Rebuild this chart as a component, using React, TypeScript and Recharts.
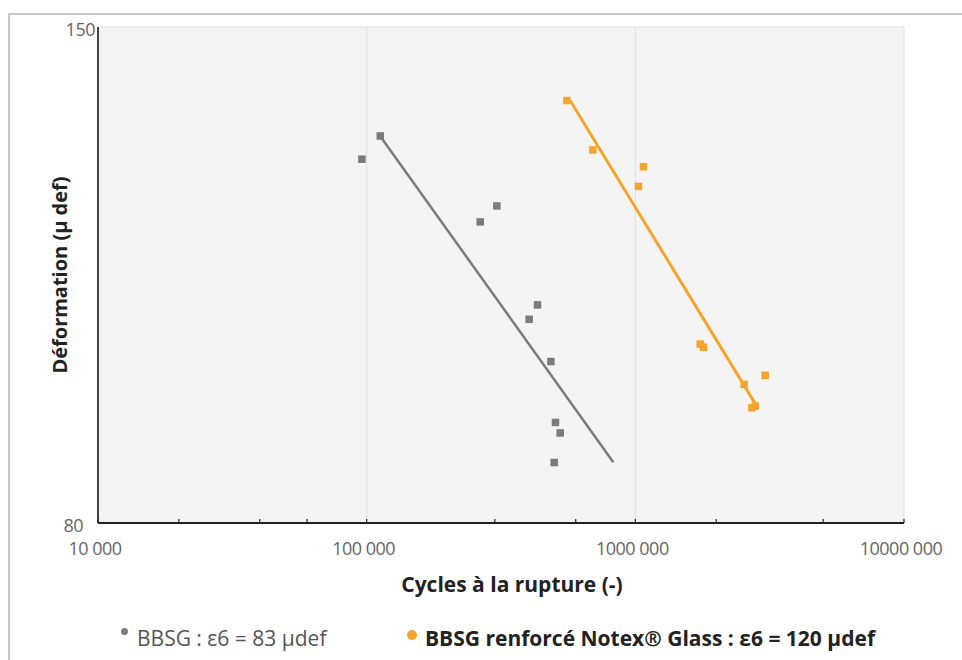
import { CartesianGrid, Legend, Scatter, ScatterChart, XAxis, YAxis } from 'recharts';

// cycles to failure / strain (µdef)
const bbsgCycles = [95800, 112100, 264100, 304600, 431400, 401800, 483900, 503300, 524000, 497800];
const bbsgStrain = [126.9, 130.7, 117.2, 119.6, 105.5, 103.6, 98.2, 90.9, 89.7, 86.4];
const notexCycles = [555100, 693500, 1070000, 1025000, 1740000, 1789000, 2536000, 3036000, 2710000, 2787000];
const notexStrain = [136.7, 128.4, 125.7, 122.6, 100.4, 100.0, 95.4, 96.5, 92.6, 92.8];

// fitted fatigue lines (end points)
const bbsgFitCycles = [112000, 828000];
const bbsgFitStrain = [130.7, 86.4];
const notexFitCycles = [571000, 2828000];
const notexFitStrain = [136.7, 92.8];

const xTicks = [
  10000, 20000, 30000, 40000, 50000, 60000, 70000, 80000, 90000,
  100000, 200000, 300000, 400000, 500000, 600000, 700000, 800000, 900000,
  1000000, 2000000, 3000000, 4000000, 5000000, 6000000, 7000000, 8000000, 9000000,
  10000000,
];
const xMajorLabels: Record<number, string> = {
  10000: '10 000',
  100000: '100 000',
  1000000: '1000 000',
  10000000: '10000 000',
};
const yTicks = [80, 150];

const seriesNames = ['BBSG : ε6 = 83 µdef', 'BBSG renforcé Notex® Glass : ε6 = 120 µdef'];
const GREY = '#7b7b7b';
const ORANGE = '#f6a52c';
const FONT = "'Open Sans', 'Noto Sans', sans-serif";

const toPoints = (xs: number[], ys: number[]) => xs.map((x, i) => ({ x, y: ys[i] }));

const bbsgData = toPoints(bbsgCycles, bbsgStrain);
const notexData = toPoints(notexCycles, notexStrain);
const bbsgFit = toPoints(bbsgFitCycles, bbsgFitStrain);
const notexFit = toPoints(notexFitCycles, notexFitStrain);

const squareShape = (color: string) => (props: any) => {
  const { cx, cy } = props;
  if (cx == null || cy == null) return <g />;
  return <rect x={cx - 3.5} y={cy - 3.5} width={7.5} height={7.5} fill={color} />;
};

const XTick = (props: any) => {
  const { x, y, payload } = props;
  const label = xMajorLabels[payload.value];
  return (
    <g>
      <line x1={x} y1={y} x2={x} y2={y - 4} stroke="#222" strokeWidth={1.2} />
      {label && (
        <text x={x - 3} y={y + 32} textAnchor="middle" fontSize={18} fill="#666" fontFamily={FONT} letterSpacing={-0.5}>
          {label}
        </text>
      )}
    </g>
  );
};

const YTick = (props: any) => {
  const { x, y, payload } = props;
  const dx = payload.value === 150 ? 0 : -12;
  return (
    <text x={x + dx} y={y + 9} textAnchor="end" fontSize={18} fill="#666" fontFamily={FONT} letterSpacing={-0.5}>
      {payload.value}
    </text>
  );
};

const renderLegend = () => (
  <div style={{ position: 'relative', height: 30, fontFamily: FONT, lineHeight: '30px' }}>
    <div style={{ position: 'absolute', left: 121, top: 0, display: 'flex', alignItems: 'flex-start' }}>
      <span style={{ width: 7, height: 7, borderRadius: 4, background: GREY, marginTop: 5, marginRight: 9 }} />
      <span style={{ fontSize: 21, color: '#555' }}>{seriesNames[0]}</span>
    </div>
    <div style={{ position: 'absolute', left: 407, top: 0, display: 'flex', alignItems: 'flex-start' }}>
      <span style={{ width: 10, height: 10, borderRadius: 5, background: ORANGE, marginTop: 7, marginRight: 8 }} />
      <span style={{ fontSize: 21, color: '#222', fontWeight: 700 }}>{seriesNames[1]}</span>
    </div>
  </div>
);

export default function App() {
  return (
    <div style={{ position: 'absolute', left: 0, top: 0, width: 962, height: 660, overflow: 'hidden', background: '#fff' }}>
      <div
        style={{
          position: 'absolute',
          left: 8,
          top: 13,
          width: 1000,
          height: 700,
          border: '2px solid #c8c8c8',
        }}
      />
      <div style={{ position: 'absolute', left: 0, top: 0 }}>
        <ScatterChart width={962} height={660} margin={{ top: 27, right: 58, bottom: 70, left: 38 }}>
          <CartesianGrid
            horizontalValues={[150]}
            verticalValues={[100000, 1000000, 10000000]}
            stroke="#e0e0e0"
            fill="#f4f4f4"
          />
          <XAxis
            type="number"
            dataKey="x"
            scale="log"
            domain={[10000, 10000000]}
            ticks={xTicks}
            allowDataOverflow
            height={37}
            tickSize={0}
            tickMargin={0}
            tick={<XTick />}
            axisLine={{ stroke: '#222', strokeWidth: 2 }}
            label={{
              value: 'Cycles à la rupture (-)',
              position: 'insideBottom',
              offset: -32,
              dx: 11,
              style: { fontSize: 21, fontWeight: 700, fill: '#222', fontFamily: FONT },
            }}
          />
          <YAxis
            type="number"
            dataKey="y"
            scale="log"
            domain={[80, 150]}
            ticks={yTicks}
            allowDataOverflow
            width={60}
            tickSize={0}
            tickMargin={3}
            tick={<YTick />}
            axisLine={{ stroke: '#444', strokeWidth: 2 }}
            label={{
              value: 'Déformation (µ def)',
              angle: -90,
              position: 'insideLeft',
              offset: 0,
              dx: 22,
              style: { fontSize: 20, fontWeight: 700, fill: '#222', fontFamily: FONT, textAnchor: 'middle' },
            }}
          />
          <Scatter
            name={seriesNames[0]}
            data={bbsgFit}
            fill={GREY}
            line={{ stroke: GREY, strokeWidth: 2.5 }}
            shape={() => <g />}
            legendType="none"
            isAnimationActive={false}
          />
          <Scatter
            name={seriesNames[1]}
            data={notexFit}
            fill={ORANGE}
            line={{ stroke: ORANGE, strokeWidth: 3 }}
            shape={() => <g />}
            legendType="none"
            isAnimationActive={false}
          />
          <Scatter name={seriesNames[0]} data={bbsgData} fill={GREY} shape={squareShape(GREY)} isAnimationActive={false} />
          <Scatter name={seriesNames[1]} data={notexData} fill={ORANGE} shape={squareShape(ORANGE)} isAnimationActive={false} />
          <Legend
            verticalAlign="bottom"
            content={renderLegend}
            wrapperStyle={{ left: 0, width: 962, top: 623 }}
          />
        </ScatterChart>
      </div>
    </div>
  );
}
